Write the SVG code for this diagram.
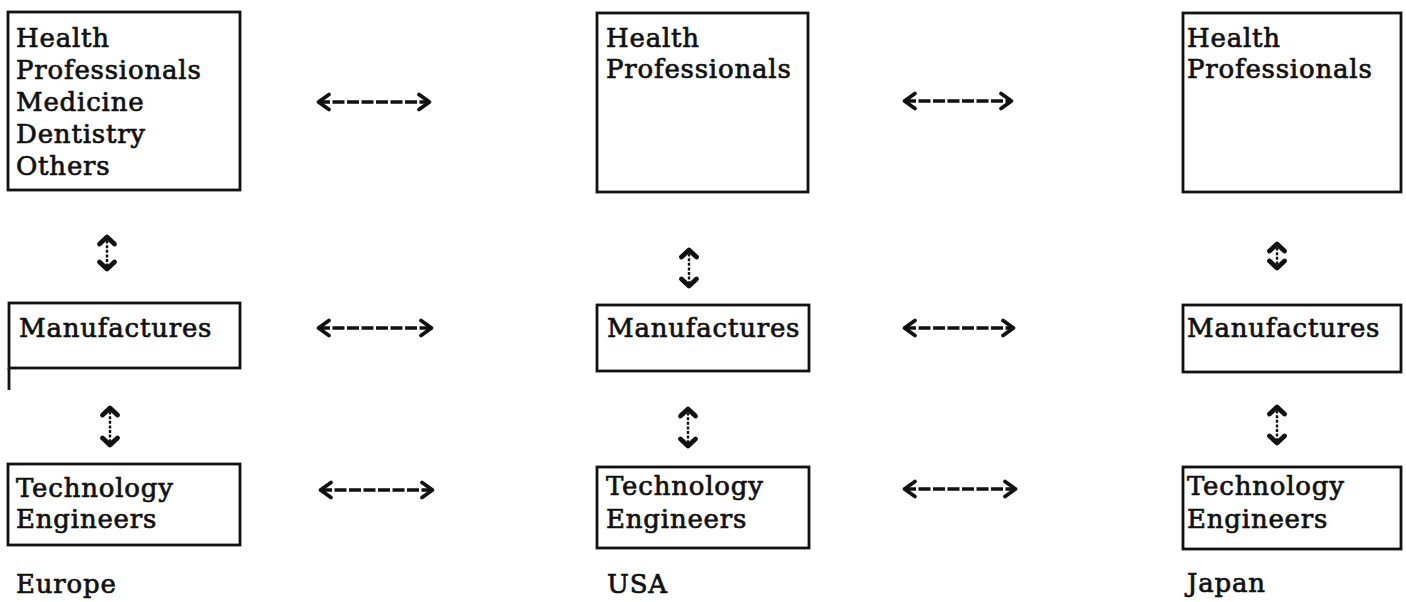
<svg xmlns="http://www.w3.org/2000/svg" width="1406" height="602" viewBox="0 0 1406 602">
  <style>
    .box { fill: #ffffff; stroke: #111111; stroke-width: 2.8; }
    .lbl { font-family: "DejaVu Serif", "Liberation Serif", serif; font-size: 26px; letter-spacing: 0.8px;
           fill: #111111; stroke: #111111; stroke-width: 0.7; }
    .hlink { stroke: #111111; stroke-width: 3.6; stroke-dasharray: 12 2.5; fill: none;
             marker-start: url(#chev); marker-end: url(#chev); }
    .vlink { stroke: #111111; stroke-width: 2.4; stroke-dasharray: 3 1.6; fill: none;
             marker-start: url(#vchev); marker-end: url(#vchev); }
  </style>
  <defs>
    <!-- open chevron for the horizontal double-headed links -->
    <marker id="chev" markerUnits="userSpaceOnUse" viewBox="-16 -11 18 22" markerWidth="18" markerHeight="22"
            refX="0" refY="0" orient="auto-start-reverse" overflow="visible">
      <path d="M -11 -7.5 L -0.5 0 L -11 7.5" fill="none" stroke="#111111" stroke-width="3.8"
            stroke-linejoin="round" stroke-linecap="round"/>
    </marker>
    <!-- heavier chevron for the short vertical links -->
    <marker id="vchev" markerUnits="userSpaceOnUse" viewBox="-12 -11 14 22" markerWidth="14" markerHeight="22"
            refX="0" refY="0" orient="auto-start-reverse" overflow="visible">
      <path d="M -8 -7.5 L -1 0 L -8 7.5" fill="none" stroke="#111111" stroke-width="4.8"
            stroke-linejoin="round" stroke-linecap="round"/>
    </marker>
  </defs>

  <rect width="1406" height="602" fill="#ffffff"/>

  <!-- Europe column -->
  <g id="europe-health">
    <rect class="box" x="8" y="12" width="232" height="178"/>
    <text class="lbl" x="16" y="47">Health</text>
    <text class="lbl" x="16" y="79">Professionals</text>
    <text class="lbl" x="16" y="111">Medicine</text>
    <text class="lbl" x="16" y="143">Dentistry</text>
    <text class="lbl" x="16" y="175">Others</text>
  </g>
  <g id="europe-manufactures">
    <rect class="box" x="9" y="303" width="231" height="65"/>
    <line x1="9" y1="368" x2="9" y2="390" stroke="#111111" stroke-width="2.8"/>
    <text class="lbl" x="19" y="337">Manufactures</text>
  </g>
  <g id="europe-technology">
    <rect class="box" x="8" y="464" width="232" height="81"/>
    <text class="lbl" x="16" y="497">Technology</text>
    <text class="lbl" x="16" y="528">Engineers</text>
  </g>
  <g id="europe-label">
    <text class="lbl" x="16" y="593">Europe</text>
  </g>

  <!-- USA column -->
  <g id="usa-health">
    <rect class="box" x="597" y="13" width="211" height="179"/>
    <text class="lbl" x="606" y="47">Health</text>
    <text class="lbl" x="606" y="78">Professionals</text>
  </g>
  <g id="usa-manufactures">
    <rect class="box" x="597" y="305" width="212" height="66"/>
    <text class="lbl" x="607" y="337">Manufactures</text>
  </g>
  <g id="usa-technology">
    <rect class="box" x="597" y="467" width="212" height="81"/>
    <text class="lbl" x="606" y="495">Technology</text>
    <text class="lbl" x="606" y="528">Engineers</text>
  </g>
  <g id="usa-label">
    <text class="lbl" x="607" y="593">USA</text>
  </g>

  <!-- Japan column -->
  <g id="japan-health">
    <rect class="box" x="1183" y="13" width="218" height="179"/>
    <text class="lbl" x="1187" y="47">Health</text>
    <text class="lbl" x="1187" y="78">Professionals</text>
  </g>
  <g id="japan-manufactures">
    <rect class="box" x="1183" y="305" width="218" height="67"/>
    <text class="lbl" x="1187" y="337">Manufactures</text>
  </g>
  <g id="japan-technology">
    <rect class="box" x="1183" y="467" width="218" height="82"/>
    <text class="lbl" x="1187" y="495">Technology</text>
    <text class="lbl" x="1187" y="528">Engineers</text>
  </g>
  <g id="japan-label">
    <text class="lbl" x="1187" y="592">Japan</text>
  </g>

  <!-- two-way links between the boxes -->
  <g id="connectors">
    <line class="hlink" x1="318" y1="102" x2="430" y2="102"/>
    <line class="hlink" x1="904" y1="101" x2="1012" y2="101"/>
    <line class="hlink" x1="318" y1="328" x2="432" y2="328"/>
    <line class="hlink" x1="904" y1="328" x2="1014" y2="328"/>
    <line class="hlink" x1="320" y1="490" x2="433" y2="490"/>
    <line class="hlink" x1="904" y1="489" x2="1016" y2="489"/>

    <line class="vlink" x1="107" y1="236" x2="107" y2="270"/>
    <line class="vlink" x1="689" y1="249" x2="689" y2="287"/>
    <line class="vlink" x1="1277" y1="243" x2="1277" y2="269"/>
    <line class="vlink" x1="110" y1="407" x2="110" y2="446"/>
    <line class="vlink" x1="688" y1="408" x2="688" y2="447"/>
    <line class="vlink" x1="1277" y1="406" x2="1277" y2="444"/>
  </g>
</svg>
